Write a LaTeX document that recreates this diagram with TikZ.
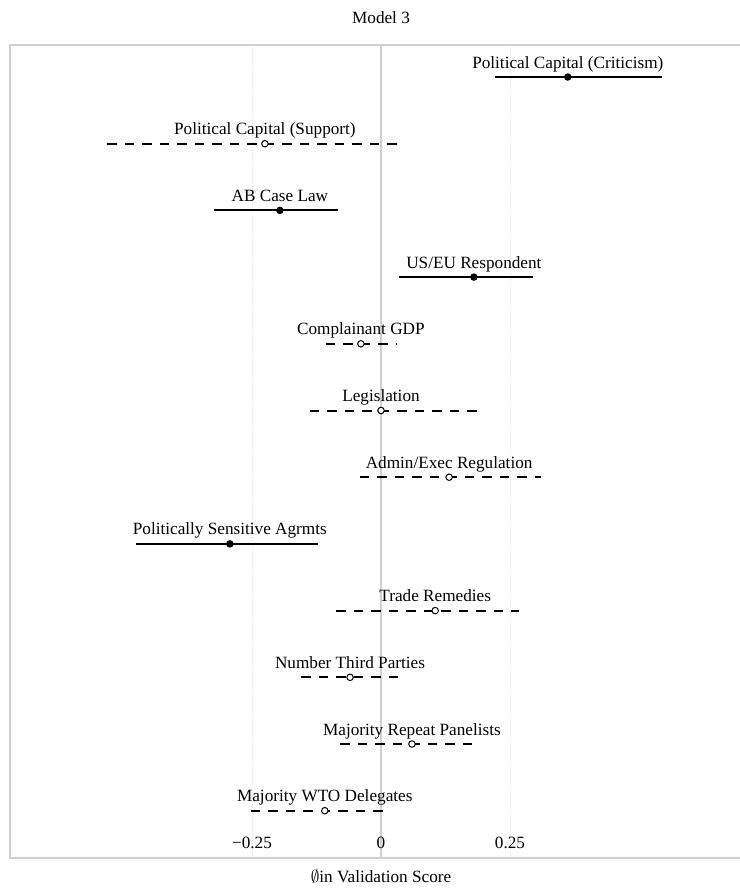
\documentclass[tikz,border=0pt]{standalone}
\usepackage{fontspec}
\setmainfont{Liberation Serif}
\usetikzlibrary{positioning}
\definecolor{gridgray}{RGB}{222,222,222}
\definecolor{framegray}{RGB}{208,208,208}

\begin{document}
\begin{tikzpicture}[x=516pt, y=-1pt, every node/.style={font=\fontsize{17.2}{19}\selectfont},
    cisig/.style={line width=2pt},
    cins/.style={line width=2pt, dash pattern=on 9.5pt off 8pt},
    ptsig/.style={circle, fill=black, inner sep=0pt, minimum size=7.5pt},
    ptns/.style={circle, draw=black, fill=white, line width=1pt, inner sep=0pt, minimum size=6.5pt},
    lab/.style={anchor=base, inner sep=0pt}]
  \useasboundingbox (-0.7384,0) rectangle (0.6957,889);
  % panel and grid
  \coordinate (tl) at (-0.719,45);
  \coordinate (bl) at (-0.719,858);
  \coordinate (tr) at (0.76,45);
  \coordinate (br) at (0.76,858);
  \draw[framegray, line width=1.5pt] (tr) -- (tl) -- (bl) -- (br);
  \draw[gridgray, dotted, line width=1pt] (-0.25,45) -- (-0.25,858);
  \draw[gridgray, dotted, line width=1pt] (0.25,45) -- (0.25,858);
  \draw[framegray, line width=1.5pt] (0,45) -- (0,858);
  % estimates
  \foreach \i/\est/\lo/\hi/\s/\txt in {
    1/0.362/0.221/0.545/sig/{Political Capital (Criticism)},
    2/-0.225/-0.531/0.043/ns/{Political Capital (Support)},
    3/-0.196/-0.324/-0.083/sig/{AB Case Law},
    4/0.180/0.035/0.295/sig/{US/EU Respondent},
    5/-0.039/-0.107/0.031/ns/{Complainant GDP},
    6/0.000/-0.138/0.188/ns/{Legislation},
    7/0.132/-0.041/0.310/ns/{Admin/Exec Regulation},
    8/-0.293/-0.475/-0.122/sig/{Politically Sensitive Agrmts},
    9/0.105/-0.087/0.267/ns/{Trade Remedies},
    10/-0.060/-0.155/0.043/ns/{Number Third Parties},
    11/0.060/-0.079/0.184/ns/{Majority Repeat Panelists},
    12/-0.109/-0.252/0.010/ns/{Majority WTO Delegates}}
  {
    \pgfmathsetmacro\yy{77+66.7*(\i-1)}
    \coordinate (lo\i) at (\lo,\yy);
    \coordinate (hi\i) at (\hi,\yy);
    \draw[ci\s] (lo\i) -- (hi\i);
    \node[pt\s] (est\i) at (\est,\yy) {};
    \node[lab] (lab\i) at (\est,\yy-9) {\txt};
  }
  % axis
  \node[lab] (tickm) at (-0.25,848) {−0.25};
  \node[lab] (tick0) at (0,848) {0};
  \node[lab] (tickp) at (0.25,848) {0.25};
  \node[lab] (xlab) at (0,882) {$\emptyset$in Validation Score};
  \node[lab] (title) at (0,23) {Model 3};
\end{tikzpicture}
\end{document}
